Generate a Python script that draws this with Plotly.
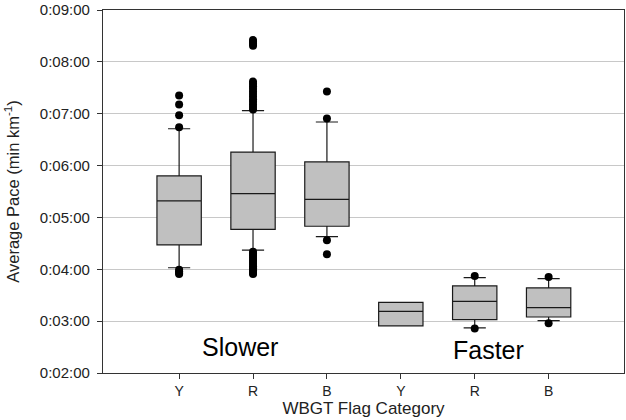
import plotly.graph_objects as go

categories = ["Y", "R", "B", "Y", "R", "B"]
positions = [0, 1, 2, 3, 4, 5]
# values in minutes per km
q1 = [4.47, 4.77, 4.83, 2.91, 3.03, 3.08]
median = [5.32, 5.46, 5.35, 3.19, 3.38, 3.26]
q3 = [5.80, 6.26, 6.07, 3.36, 3.68, 3.64]
lowerfence = [4.03, 4.37, 4.63, 2.91, 2.87, 3.01]
upperfence = [6.71, 7.06, 6.84, 3.36, 3.84, 3.82]

outlier_x = (
    [0] * 8
    + [1] * 29
    + [2] * 4
    + [4] * 2
    + [5] * 2
)
outlier_y = (
    [7.35, 7.18, 6.97, 6.74, 3.99, 3.96, 3.93, 3.91]
    + [8.31, 8.35, 8.39, 8.42,
       7.08, 7.13, 7.18, 7.23, 7.28, 7.33, 7.38, 7.43, 7.48, 7.53, 7.58, 7.62,
       4.34, 4.30, 4.26, 4.22, 4.18, 4.14, 4.10, 4.06, 4.02, 3.98, 3.95, 3.93, 3.91]
    + [7.43, 6.91, 4.56, 4.29]
    + [3.87, 2.86]
    + [3.85, 2.96]
)

tick_vals = [2, 3, 4, 5, 6, 7, 8, 9]
tick_text = ["0:02:00", "0:03:00", "0:04:00", "0:05:00", "0:06:00", "0:07:00", "0:08:00", "0:09:00"]

font = "Liberation Sans, Arial, sans-serif"

fig = go.Figure()
fig.add_trace(go.Box(
    x=positions, q1=q1, median=median, q3=q3,
    lowerfence=lowerfence, upperfence=upperfence,
    width=0.6, whiskerwidth=0.5,
    fillcolor="#c0c0c0", line=dict(color="#1a1a1a", width=1.2),
    boxpoints=False, showlegend=False, hoverinfo="skip",
))
fig.add_trace(go.Scatter(
    x=outlier_x, y=outlier_y, mode="markers",
    marker=dict(color="black", size=8),
    showlegend=False, hoverinfo="skip",
))

fig.add_annotation(x=0.82, y=2.5, text="Slower", showarrow=False,
                   font=dict(family=font, size=25, color="black"))
fig.add_annotation(x=4.18, y=2.44, text="Faster", showarrow=False,
                   font=dict(family=font, size=25, color="black"))

fig.update_layout(
    width=626, height=420,
    margin=dict(l=103, r=1, t=7, b=47),
    paper_bgcolor="white", plot_bgcolor="white",
    font=dict(family=font, size=14, color="#222"),
)
fig.update_xaxes(
    range=[-1.03, 6.02], tickmode="array", tickvals=positions, ticktext=categories,
    showgrid=False, zeroline=False, showline=True, mirror=True,
    linecolor="#333", linewidth=1.3, ticks="outside", ticklen=5, tickcolor="#333",
    tickfont=dict(size=14),
    title=dict(text="WBGT Flag Category", font=dict(size=17), standoff=4),
)
fig.update_yaxes(
    range=[2, 9], tickmode="array", tickvals=tick_vals, ticktext=tick_text,
    showgrid=True, gridcolor="#c8c8c8", gridwidth=1, zeroline=False,
    showline=True, mirror=True, linecolor="#333", linewidth=1.3,
    ticks="outside", ticklen=5, tickcolor="#333", ticklabelstandoff=4,
    ticklabeloverflow="allow",
    tickfont=dict(size=15),
    title=dict(text="Average Pace (min km<sup>-1</sup>)", font=dict(size=16.5), standoff=16),
)

fig.write_html("out.html", config={"displayModeBar": False},
               post_script="document.body.style.margin='0';")
